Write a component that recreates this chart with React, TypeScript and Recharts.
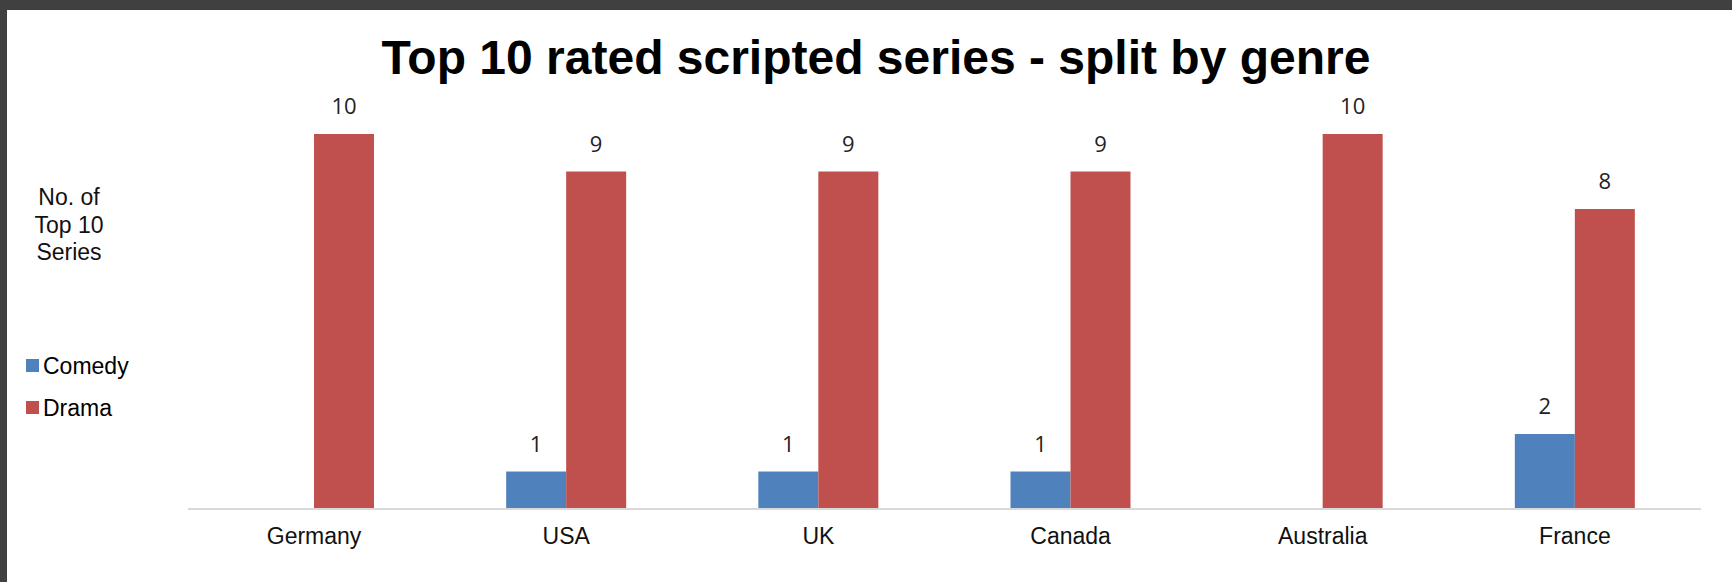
import React from 'react'
import { BarChart, Bar, XAxis, YAxis, Legend, LabelList } from 'recharts'

const countries = ['Germany', 'USA', 'UK', 'Canada', 'Australia', 'France']
const comedy = [0, 1, 1, 1, 0, 2]
const drama = [10, 9, 9, 9, 10, 8]

const chartData = countries.map((c, i) => ({ country: c, Comedy: comedy[i], Drama: drama[i] }))

const hideZero = (v: any) => (v === 0 ? '' : v)

function GenreLegend(props: any) {
  const items = props.payload || []
  return (
    <div style={{ fontFamily: '"Liberation Sans", Arial, sans-serif', fontSize: 23, color: '#000', textAlign: 'left' }}>
      {items.map((it: any) => (
        <div key={it.value} style={{ height: 42, lineHeight: '42px', whiteSpace: 'nowrap' }}>
          <span style={{ display: 'inline-block', width: 13, height: 13, background: it.color, marginRight: 4, verticalAlign: 'middle', position: 'relative', top: -2 }} />
          {it.value}
        </div>
      ))}
    </div>
  )
}

export default function App() {
  return (
    <div style={{ position: 'absolute', left: 0, top: 0, width: 1732, height: 582, background: '#fff', overflow: 'hidden' }}>
      <div style={{ position: 'absolute', left: 0, top: 0 }}>
        <BarChart width={1732} height={582} data={chartData} barSize={60} barGap={0}
          margin={{ top: 134, right: 31, left: 188, bottom: 33 }}>
          <XAxis dataKey="country" height={40} tickSize={0} tickMargin={19}
            axisLine={{ stroke: '#d9d9d9', strokeWidth: 2 }} tickLine={false}
            tick={{ fill: '#111', fontSize: 23, fontFamily: '"Liberation Sans", Arial, sans-serif' }} />
          <YAxis hide width={0} domain={[0, 10]} />
          <Legend layout="vertical" align="center" verticalAlign="middle" content={<GenreLegend />}
            wrapperStyle={{ position: 'absolute', left: 26, top: 345, width: 160 }} />
          <Bar dataKey="Comedy" fill="#4f81bd" isAnimationActive={false}>
            <LabelList dataKey="Comedy" position="top" offset={20} formatter={hideZero}
              style={{ fill: '#222', fontSize: 22, fontFamily: '"Open Sans", sans-serif' }} />
          </Bar>
          <Bar dataKey="Drama" fill="#c0504d" isAnimationActive={false}>
            <LabelList dataKey="Drama" position="top" offset={20} formatter={hideZero}
              style={{ fill: '#222', fontSize: 22, fontFamily: '"Open Sans", sans-serif' }} />
          </Bar>
        </BarChart>
      </div>
      <div style={{ position: 'absolute', left: 376, top: 34, width: 1000, textAlign: 'center', fontFamily: '"Liberation Sans", Arial, sans-serif', fontWeight: 'bold', fontSize: 48, lineHeight: '48px', color: '#000', whiteSpace: 'nowrap' }}>
        Top 10 rated scripted series - split by genre
      </div>
      <div style={{ position: 'absolute', left: 19, top: 184, width: 100, textAlign: 'center', fontFamily: '"Liberation Sans", Arial, sans-serif', fontSize: 23, lineHeight: '27.5px', color: '#111' }}>
        No. of<br />Top 10<br />Series
      </div>
      <div style={{ position: 'absolute', left: 0, top: 0, width: 1732, height: 10, background: '#404040' }} />
      <div style={{ position: 'absolute', left: 0, top: 0, width: 7, height: 582, background: '#404040' }} />
    </div>
  )
}
